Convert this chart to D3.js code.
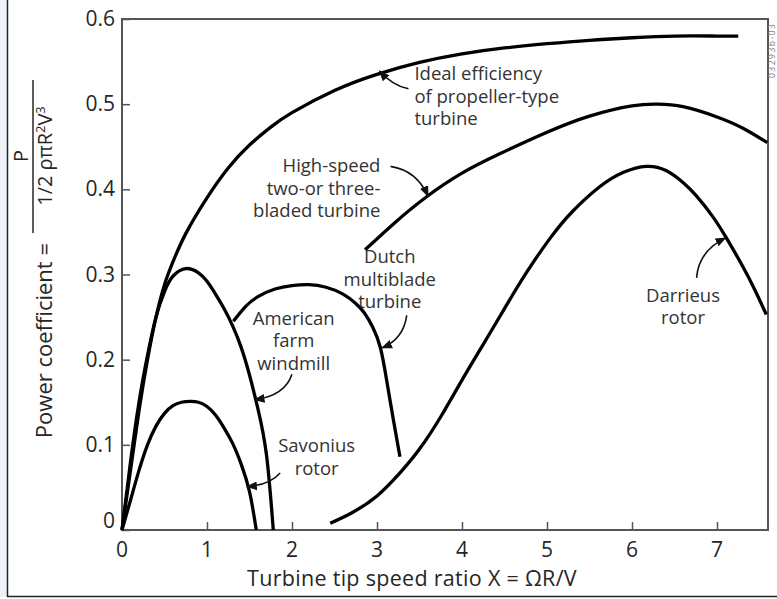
<!DOCTYPE html>
<html>
<head>
<meta charset="utf-8">
<script src="https://cdn.jsdelivr.net/npm/d3@7"></script>
<style>
  body { margin: 0; background: #ffffff; }
  svg { display: block; }
  text { font-family: "Open Sans", "Noto Sans", sans-serif; fill: #262626; }
</style>
</head>
<body>
<svg id="chart" width="777" height="599"></svg>
<script>
// Chart data
var xTicks = [0, 1, 2, 3, 4, 5, 6, 7];
var yTicks = [0, 0.1, 0.2, 0.3, 0.4, 0.5, 0.6];
var yTickLabels = ["0", "0.1", "0.2", "0.3", "0.4", "0.5", "0.6"];

var idealX = [0, 0.1, 0.2, 0.3, 0.4, 0.5, 0.6, 0.75, 1.0, 1.25, 1.5, 1.75, 2.0, 2.5, 3.0, 3.5, 4.0, 4.5, 5.0, 5.5, 6.0, 6.5, 7.0, 7.25];
var idealY = [0, 0.07, 0.14, 0.2, 0.25, 0.288, 0.315, 0.348, 0.39, 0.425, 0.452, 0.473, 0.49, 0.516, 0.535, 0.549, 0.559, 0.566, 0.571, 0.575, 0.578, 0.58, 0.58, 0.58];

var farmX = [0, 0.1, 0.2, 0.3, 0.4, 0.5, 0.6, 0.75, 0.9, 1.0, 1.1, 1.2, 1.3, 1.4, 1.5, 1.6, 1.7, 1.78];
var farmY = [0, 0.08, 0.15, 0.205, 0.25, 0.28, 0.298, 0.307, 0.302, 0.292, 0.277, 0.26, 0.24, 0.215, 0.182, 0.142, 0.088, 0];

var savoniusX = [0, 0.1, 0.2, 0.3, 0.4, 0.5, 0.6, 0.7, 0.8, 0.9, 1.0, 1.1, 1.2, 1.3, 1.4, 1.5, 1.58];
var savoniusY = [0, 0.035, 0.07, 0.1, 0.122, 0.137, 0.146, 0.15, 0.151, 0.15, 0.145, 0.135, 0.12, 0.102, 0.078, 0.045, 0];

var dutchX = [1.31, 1.45, 1.6, 1.8, 2.0, 2.2, 2.4, 2.6, 2.75, 2.85, 2.95, 3.04, 3.11, 3.19, 3.27];
var dutchY = [0.245, 0.262, 0.274, 0.283, 0.287, 0.288, 0.285, 0.277, 0.266, 0.255, 0.238, 0.214, 0.178, 0.131, 0.086];

var highSpeedX = [2.86, 3.2, 3.58, 4.0, 4.45, 5.0, 5.5, 6.0, 6.3, 6.6, 7.0, 7.3, 7.59];
var highSpeedY = [0.329, 0.36, 0.391, 0.419, 0.442, 0.467, 0.486, 0.498, 0.5, 0.497, 0.485, 0.472, 0.455];

var darrieusX = [2.45, 2.7, 3.0, 3.27, 3.5, 3.75, 4.0, 4.25, 4.5, 4.75, 5.04, 5.3, 5.62, 5.9, 6.17, 6.4, 6.6, 6.76, 6.95, 7.11, 7.3, 7.45, 7.58];
var darrieusY = [0.008, 0.02, 0.04, 0.067, 0.095, 0.133, 0.176, 0.218, 0.26, 0.301, 0.343, 0.374, 0.403, 0.42, 0.427, 0.422, 0.408, 0.392, 0.368, 0.343, 0.31, 0.281, 0.253];

var seriesX = [idealX, farmX, savoniusX, dutchX, highSpeedX, darrieusX];
var seriesY = [idealY, farmY, savoniusY, dutchY, highSpeedY, darrieusY];

// Annotation labels (positions in data units)
var noteLines = [
  ["Ideal efficiency", "of propeller-type", "turbine"],
  ["High-speed", "two-or three-", "bladed turbine"],
  ["Dutch", "multiblade", "turbine"],
  ["American", "farm", "windmill"],
  ["Savonius", "rotor"],
  ["Darrieus", "rotor"]
];
var noteX = [3.44, 3.04, 3.15, 2.02, 2.29, 6.6];
var noteY = [0.528, 0.42, 0.313, 0.241, 0.091, 0.268];
var noteAnchor = ["start", "end", "middle", "middle", "middle", "middle"];
// arrows: start, control, end
var arrowFrom = [[3.37, 0.518], [3.16, 0.427], [3.35, 0.252], [1.999, 0.183], [1.86, 0.067], [6.76, 0.296]];
var arrowCtrl = [[3.18, 0.522], [3.47, 0.422], [3.31, 0.224], [1.92, 0.158], [1.74, 0.053], [6.78, 0.327]];
var arrowTo = [[3.03, 0.539], [3.6, 0.392], [3.06, 0.214], [1.56, 0.153], [1.47, 0.051], [7.1, 0.343]];

var width = 777, height = 599;
var svg = d3.select("#chart");

// Scales
var x = d3.scaleLinear().domain([0, 7.6]).range([122, 768]);
var y = d3.scaleLinear().domain([0, 0.6]).range([530, 19]);

// Page edge lines like the scan
svg.append("rect").attr("x", 0).attr("y", 0).attr("width", 7).attr("height", 597).style("fill", "#eef2f6");
svg.append("line").attr("x1", 7.5).attr("x2", 7.5).attr("y1", 0).attr("y2", 597)
  .style("stroke", "#222").style("stroke-width", 1.5);
svg.append("line").attr("x1", 7).attr("x2", width).attr("y1", 596.5).attr("y2", 596.5)
  .style("stroke", "#222").style("stroke-width", 1.5);

// Axes (ticks point inward)
var xAxis = svg.append("g")
  .attr("transform", "translate(0," + y(0) + ")")
  .call(d3.axisTop(x).tickValues(xTicks).tickSize(8).tickFormat(""));
var yAxis = svg.append("g")
  .attr("transform", "translate(" + x(0) + ",0)")
  .call(d3.axisRight(y).tickValues(yTicks).tickSize(8).tickFormat(""));
[xAxis, yAxis].forEach(function(g) {
  g.select(".domain").remove();
  g.selectAll(".tick line").style("stroke", "#555").style("stroke-width", 1.5);
});

// Frame
svg.append("rect")
  .attr("x", x(0)).attr("y", y(0.6))
  .attr("width", x(7.6) - x(0)).attr("height", y(0) - y(0.6))
  .style("fill", "none").style("stroke", "#555").style("stroke-width", 2);

// Tick labels
svg.selectAll(".xlab").data(xTicks).enter().append("text")
  .attr("x", function(d) { return x(d); })
  .attr("y", 557)
  .attr("text-anchor", "middle")
  .style("font-size", "21px")
  .text(function(d) { return d; });

svg.selectAll(".ylab").data(yTicks).enter().append("text")
  .attr("x", 115)
  .attr("y", function(d) { return d === 0 ? y(d) - 2 : y(d) + 7; })
  .attr("text-anchor", "end")
  .style("font-size", "21px")
  .text(function(d, i) { return yTickLabels[i]; });

// Axis title
svg.append("text")
  .attr("x", 412).attr("y", 586)
  .attr("text-anchor", "middle")
  .style("font-size", "21.5px")
  .style("letter-spacing", "0.3px")
  .text("Turbine tip speed ratio X = \u03A9R/V");

// Y title, rotated: local x = -screen y, local y = screen x
var yt = svg.append("g").attr("transform", "rotate(-90)");
yt.append("text")
  .attr("x", -243).attr("y", 52)
  .attr("text-anchor", "end")
  .style("font-size", "22px")
  .text("Power coefficient =");
var den = yt.append("text")
  .attr("x", -156).attr("y", 52)
  .attr("text-anchor", "middle")
  .style("font-size", "20px");
den.append("tspan").text("1/2 \u03C1\u03C0R");
den.append("tspan").attr("dy", -7).style("font-size", "13px").text("2");
den.append("tspan").attr("dy", 7).text("V");
den.append("tspan").attr("dy", -7).style("font-size", "13px").text("3");
yt.append("line")
  .attr("x1", -233).attr("x2", -80).attr("y1", 33).attr("y2", 33)
  .style("stroke", "#262626").style("stroke-width", 1.5);
yt.append("text")
  .attr("x", -156).attr("y", 28)
  .attr("text-anchor", "middle")
  .style("font-size", "20px")
  .text("P");

// Curves
var line = d3.line()
  .x(function(d) { return x(d[0]); })
  .y(function(d) { return y(d[1]); })
  .curve(d3.curveNatural);

seriesX.forEach(function(xs, i) {
  var pts = xs.map(function(v, j) { return [v, seriesY[i][j]]; });
  svg.append("path")
    .datum(pts)
    .attr("d", line)
    .style("fill", "none")
    .style("stroke", "#000")
    .style("stroke-width", 3.3)
    .style("stroke-linecap", "butt");
});

// Arrowhead
svg.append("defs").append("marker")
  .attr("id", "arrow")
  .attr("viewBox", "0 0 10 10")
  .attr("refX", 9).attr("refY", 5)
  .attr("markerWidth", 11).attr("markerHeight", 11)
  .attr("markerUnits", "userSpaceOnUse")
  .attr("orient", "auto")
  .append("path")
  .attr("d", "M0,1 L10,5 L0,9 Z")
  .style("fill", "#111");

// Annotations, one text per label with a tspan per line
noteLines.forEach(function(lines, i) {
  var t = svg.append("text")
    .attr("x", x(noteX[i]))
    .attr("y", y(noteY[i]))
    .attr("text-anchor", noteAnchor[i])
    .style("font-size", "18.5px")
    .style("fill", "#333");
  lines.forEach(function(s, j) {
    t.append("tspan")
      .attr("x", x(noteX[i]))
      .attr("dy", j === 0 ? 0 : 22.5)
      .text(s);
  });
  var p = d3.path();
  p.moveTo(x(arrowFrom[i][0]), y(arrowFrom[i][1]));
  p.quadraticCurveTo(x(arrowCtrl[i][0]), y(arrowCtrl[i][1]), x(arrowTo[i][0]), y(arrowTo[i][1]));
  svg.append("path")
    .attr("d", p.toString())
    .style("fill", "none")
    .style("stroke", "#111")
    .style("stroke-width", 1.6)
    .attr("marker-end", "url(#arrow)");
});

// Figure code, top right, reads bottom to top
svg.append("text")
  .attr("transform", "translate(774.5,78) rotate(-90)")
  .style("font-size", "8.5px")
  .style("letter-spacing", "1.5px")
  .style("fill", "#777")
  .text("03293b-03");
</script>
</body>
</html>
